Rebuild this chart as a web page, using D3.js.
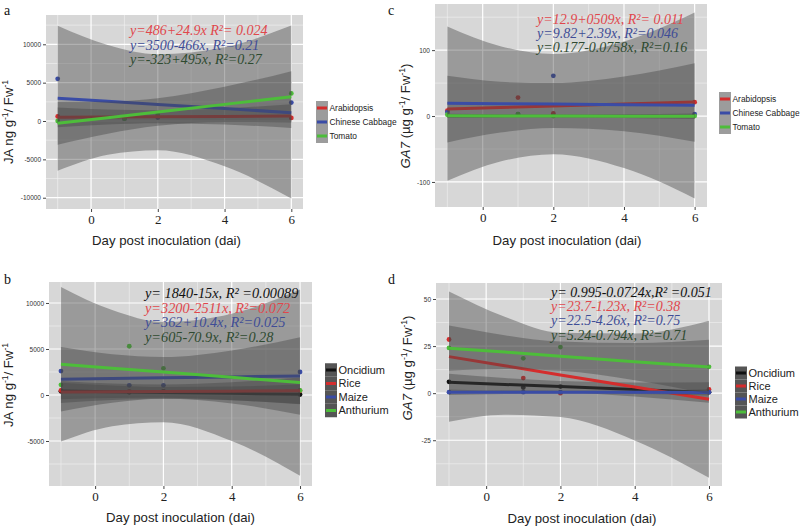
<!DOCTYPE html>
<html>
<head>
<meta charset="utf-8">
<script src="https://cdn.jsdelivr.net/npm/d3@7"></script>
<style>
  body { margin: 0; background: #fff; }
  svg { display: block; }
</style>
</head>
<body>
<svg id="chart" width="800" height="529"></svg>
<script>
const days = [-1, 1, 2, 6]
const bandDays = [-1, 0.5, 2, 4, 6]
const xTicks = [0, 2, 4, 6]
const xDomain = [-1.35, 6.35]

// panel a : JA, dicots
const aNames = ["Arabidopsis", "Chinese Cabbage", "Tomato"]
const aPoints = [[600, 500, 600, 400], [5500, 300, 450, 2400], [0, 300, 800, 3600]]
const aFit = [[480, 516, 553, 601, 650], [2970, 2566, 2163, 1625, 1085], [-300, 440, 1180, 2170, 3150]]
const aUpper = [[1770, 1486, 1388, 1661, 2200], [12420, 9900, 8700, 9600, 12435], [2480, 2530, 2980, 4460, 6500]]
const aLower = [[-810, -454, -282, -459, -900], [-6480, -4400, -3800, -5900, -10100], [-3080, -1650, -620, -120, -200]]
const aTicks = [-10000, -5000, 0, 5000, 10000]
const aDomain = [-11470, 13820]
const aEquations = ["y=486+24.9x R²= 0.024", "y=3500-466x, R²=0.21", "y=-323+495x, R²=0.27"]

// panel c : GA7, dicots
const cNames = ["Arabidopsis", "Chinese Cabbage", "Tomato"]
const cPoints = [[8, 28, 4, 21], [6, 3, 61, 3], [2, 3, 0, 0]]
const cFit = [[10.7, 13.0, 15.3, 18.3, 21.4], [19.4, 18.7, 18.1, 17.2, 16.3], [0.3, 0.15, 0, -0.15, -0.3]]
const cUpper = [[61, 52, 50, 60, 80], [136, 106, 94, 113, 157], [3.5, 2.7, 2.3, 2.8, 3.9]]
const cLower = [[-40, -25, -18, -23, -39], [-98, -69, -58, -79, -125], [-2.9, -2.4, -2.3, -3.1, -4.5]]
const cTicks = [-100, 0, 100]
const cDomain = [-138, 170]
const cEquations = ["y=12.9+0509x, R²= 0.011", "y=9.82+2.39x, R²=0.046", "y=0.177-0.0758x, R²=0.16"]

// panel b : JA, monocots
const bNames = ["Oncidium", "Rice", "Maize", "Anthurium"]
const bPoints = [[400, 300, 400, 50], [500, 400, 350, 450], [2600, 1050, 1050, 2500], [1100, 5300, 2900, 500]]
const bFit = [[436, 359, 281, 177, 73], [320, 348, 376, 413, 450], [1710, 1787, 1864, 1967, 2070], [3345, 2916, 2488, 1916, 1345]]
const bUpper = [[1336, 1035, 864, 917, 1157], [1517, 1247, 1151, 1397, 1892], [5210, 4417, 4129, 4847, 6285], [11745, 9226, 7928, 8826, 11465]]
const bLower = [[-464, -317, -302, -563, -1011], [-877, -551, -399, -571, -992], [-1790, -843, -401, -913, -2145], [-5055, -3394, -2952, -4994, -8775]]
const bTicks = [-5000, 0, 5000, 10000]
const bDomain = [-9890, 12280]
const bEquations = ["y= 1840-15x, R² =0.00089", "y=3200-2511x, R²=0.072", "y=362+10.4x, R²=0.025", "y=605-70.9x, R²=0.28"]

// panel d : GA7, monocots
const dNames = ["Oncidium", "Rice", "Maize", "Anthurium"]
const dPoints = [[6, 3, 3.5, 0.5], [28.5, 8, 0, 2], [0.5, 0.5, 0.5, 0.5], [24, 18.5, 24.5, 14]]
const dFit = [[5.8, 4.6, 3.5, 1.9, 0.35], [19.4, 14.6, 9.7, 3.3, -3.2], [0.5, 0.5, 0.5, 0.45, 0.4], [23.9, 21.8, 19.6, 16.7, 13.9]]
const dUpper = [[10.3, 8.0, 6.4, 5.6, 5.75], [54.0, 40.6, 32.1, 31.7, 38.5], [2.0, 1.4, 1.3, 1.4, 2.1], [35.9, 30.8, 27.4, 26.6, 28.3]]
const dLower = [[1.3, 1.2, 0.6, -1.8, -5.05], [-15.2, -11.4, -12.7, -25.1, -44.9], [-1.0, -0.4, -0.3, -0.5, -1.3], [11.9, 12.8, 11.9, 6.9, -0.5]]
const dTicks = [-25, 0, 25, 50]
const dDomain = [-49.3, 58.5]
const dEquations = ["y= 0.995-0.0724x,R² =0.051", "y=23.7-1.23x, R²=0.38", "y=22.5-4.26x, R²=0.75", "y=5.24-0.794x, R²=0.71"]

const xTitle = "Day post inoculation (dai)"

const red = "#d42d2d", blue = "#3a4ca6", green = "#4dbd3a", black = "#111111"
const eqColors3 = ["#e0474c", "#3f4d96", "#2e4a30"]
const eqColors4 = ["#111111", "#e0474c", "#3f4d96", "#2e4a30"]

const svg = d3.select("#chart")

function drawPanel(p) {
  const g = svg.append("g")
  const x = d3.scaleLinear().domain(xDomain).range([p.left, p.right])
  const y = d3.scaleLinear().domain(p.yDomain).range([p.bottom, p.top])

  // panel background + grid
  g.append("rect").attr("x", p.left).attr("y", p.top)
    .attr("width", p.right - p.left).attr("height", p.bottom - p.top).attr("fill", "#d7d7d7")

  const step = p.yTicks[1] - p.yTicks[0]
  const yMinor = d3.range(p.yTicks[0] - step * 2.5, p.yTicks[p.yTicks.length - 1] + step * 3, step)
    .filter((v) => v > p.yDomain[0] && v < p.yDomain[1])
  const yMajor = d3.range(p.yTicks[0] - step * 2, p.yTicks[p.yTicks.length - 1] + step * 2, step)
    .filter((v) => v > p.yDomain[0] && v < p.yDomain[1])
  const xMinor = xTicks.map((t) => t - 1).concat([7]).filter((v) => v > xDomain[0] && v < xDomain[1])

  g.selectAll(".ymin").data(yMinor).enter().append("line")
    .attr("x1", p.left).attr("x2", p.right).attr("y1", (d) => y(d)).attr("y2", (d) => y(d))
    .attr("stroke", "#f2f2f2").attr("stroke-width", 0.6)
  g.selectAll(".xmin").data(xMinor).enter().append("line")
    .attr("y1", p.top).attr("y2", p.bottom).attr("x1", (d) => x(d)).attr("x2", (d) => x(d))
    .attr("stroke", "#f2f2f2").attr("stroke-width", 0.6)
  g.selectAll(".ymaj").data(yMajor).enter().append("line")
    .attr("x1", p.left).attr("x2", p.right).attr("y1", (d) => y(d)).attr("y2", (d) => y(d))
    .attr("stroke", "#ffffff").attr("stroke-width", 1.2)
  g.selectAll(".xmaj").data(xTicks).enter().append("line")
    .attr("y1", p.top).attr("y2", p.bottom).attr("x1", (d) => x(d)).attr("x2", (d) => x(d))
    .attr("stroke", "#ffffff").attr("stroke-width", 1.2)

  // points first, smooth bands drawn over them
  p.names.forEach((n, i) => {
    g.selectAll(null).data(days.map((d, j) => [d, p.points[i][j]])).enter().append("circle")
      .attr("cx", (d) => x(d[0])).attr("cy", (d) => y(d[1])).attr("r", 2.4)
      .attr("fill", p.colors[i])
  })

  const area = d3.area().curve(d3.curveMonotoneX)
    .x((d) => x(d[0])).y0((d) => y(d[1])).y1((d) => y(d[2]))
  const line = d3.line().x((d) => x(d[0])).y((d) => y(d[1]))

  p.names.forEach((n, i) => {
    const band = bandDays.map((d, j) => [d, p.lower[i][j], p.upper[i][j]])
    g.append("path").datum(band).attr("d", area).attr("fill", "#444444").attr("fill-opacity", 0.42)
    const fit = bandDays.map((d, j) => [d, p.fit[i][j]])
    g.append("path").datum(fit).attr("d", line).attr("fill", "none")
      .attr("stroke", p.colors[i]).attr("stroke-width", 3)
  })

  // axes
  const yAxis = d3.axisLeft(y).tickValues(p.yTicks).tickSize(3).tickPadding(2).tickFormat((d) => d)
  const ya = g.append("g").attr("transform", `translate(${p.left},0)`).call(yAxis)
  ya.select(".domain").remove()
  ya.selectAll("line").attr("stroke", "#444")
  ya.selectAll("text").attr("font-family", "Liberation Sans, Arial, sans-serif").attr("font-size", 6.5).attr("fill", "#333")

  const xAxis = d3.axisBottom(x).tickValues(xTicks).tickSize(3).tickPadding(3)
  const xa = g.append("g").attr("transform", `translate(0,${p.bottom})`).call(xAxis)
  xa.select(".domain").remove()
  xa.selectAll("line").attr("stroke", "#444")
  xa.selectAll("text").attr("font-family", "Liberation Serif, Times New Roman, serif").attr("font-size", 13).attr("fill", "#222")

  // titles
  g.append("text").attr("x", (p.left + p.right) / 2 + p.xTitleShift).attr("y", p.xTitleY)
    .attr("text-anchor", "middle").attr("font-family", "Liberation Sans, Arial, sans-serif")
    .attr("font-size", 13.2).attr("fill", "#222").text(xTitle)

  const yt = g.append("text").attr("transform", `translate(${p.yTitleX},${p.yTitleY}) rotate(-90)`)
    .attr("text-anchor", "middle").attr("font-family", "Liberation Sans, Arial, sans-serif")
    .attr("font-size", 13.2).attr("fill", "#222")
  p.yTitle.forEach((part) => {
    const t = yt.append("tspan").text(part.t)
    if (part.sup) t.attr("font-size", 8.5).attr("baseline-shift", "super")
    if (part.it) t.attr("font-style", "italic")
  })

  g.append("text").attr("x", p.letterX).attr("y", p.letterY)
    .attr("font-family", "Liberation Serif, Times New Roman, serif").attr("font-size", 14).attr("fill", "#111").text(p.letter)

  // equations
  p.equations.forEach((e, i) => {
    g.append("text").attr("x", p.eqX).attr("y", p.eqY + i * p.eqStep)
      .attr("font-family", "Liberation Serif, Times New Roman, serif").attr("font-style", "italic")
      .attr("font-size", p.eqFont).attr("fill", p.eqColors[i]).text(e)
  })

  // legend
  const lg = g.append("g").attr("transform", `translate(${p.legX},${p.legY})`)
  p.names.forEach((n, i) => {
    const ry = i * p.legStep
    lg.append("rect").attr("x", 0).attr("y", ry - p.legStep / 2).attr("width", 12).attr("height", p.legStep)
      .attr("fill", p.keyFill)
    lg.append("line").attr("x1", 1).attr("x2", 11).attr("y1", ry).attr("y2", ry)
      .attr("stroke", p.colors[i]).attr("stroke-width", 3)
    lg.append("text").attr("x", 13.5).attr("y", ry).attr("dy", "0.35em")
      .attr("font-family", "Liberation Sans, Arial, sans-serif").attr("font-size", p.legFont)
      .attr("fill", "#222").text(n)
  })
}

const jaTitle = [{ t: "JA ng g" }, { t: "-1", sup: true }, { t: "/ Fw" }, { t: "-1", sup: true }]
const gaTitle = [{ t: "GA7", it: true }, { t: " (µg g" }, { t: "-1", sup: true }, { t: "/ Fw" }, { t: "-1", sup: true }, { t: ")" }]

drawPanel({
  letter: "a", letterX: 4, letterY: 15,
  left: 46, right: 303, top: 15, bottom: 209, yDomain: aDomain, yTicks: aTicks,
  names: aNames, points: aPoints, fit: aFit, upper: aUpper, lower: aLower, colors: [red, blue, green],
  equations: aEquations, eqColors: eqColors3, eqX: 130, eqY: 35, eqStep: 14.5, eqFont: 14,
  yTitle: jaTitle, yTitleX: 13, yTitleY: 122, xTitleY: 245, xTitleShift: -8,
  legX: 316, legY: 108, legStep: 14, legFont: 8.4, keyFill: "#9c9c9c"
})
drawPanel({
  letter: "c", letterX: 388, letterY: 15,
  left: 435, right: 707, top: 4, bottom: 207, yDomain: cDomain, yTicks: cTicks,
  names: cNames, points: cPoints, fit: cFit, upper: cUpper, lower: cLower, colors: [red, blue, green],
  equations: cEquations, eqColors: eqColors3, eqX: 537, eqY: 24, eqStep: 14, eqFont: 14,
  yTitle: gaTitle, yTitleX: 410, yTitleY: 116, xTitleY: 245, xTitleShift: -4,
  legX: 719, legY: 99, legStep: 14, legFont: 8.4, keyFill: "#9c9c9c"
})
drawPanel({
  letter: "b", letterX: 4, letterY: 284,
  left: 49, right: 312, top: 282, bottom: 486, yDomain: bDomain, yTicks: bTicks,
  names: bNames, points: bPoints, fit: bFit, upper: bUpper, lower: bLower, colors: [black, red, blue, green],
  equations: bEquations, eqColors: eqColors4, eqX: 145, eqY: 298, eqStep: 14.5, eqFont: 14.3,
  yTitle: jaTitle, yTitleX: 13, yTitleY: 385, xTitleY: 522, xTitleShift: 0,
  legX: 325, legY: 370, legStep: 13.5, legFont: 11, keyFill: "#555555"
})
drawPanel({
  letter: "d", letterX: 388, letterY: 284,
  left: 436, right: 722, top: 283, bottom: 486, yDomain: dDomain, yTicks: dTicks,
  names: dNames, points: dPoints, fit: dFit, upper: dUpper, lower: dLower, colors: [black, red, blue, green],
  equations: dEquations, eqColors: eqColors4, eqX: 551, eqY: 297, eqStep: 14.2, eqFont: 14,
  yTitle: gaTitle, yTitleX: 412, yTitleY: 368, xTitleY: 523, xTitleShift: 3,
  legX: 735, legY: 373, legStep: 13, legFont: 11, keyFill: "#555555"
})
</script>
</body>
</html>
